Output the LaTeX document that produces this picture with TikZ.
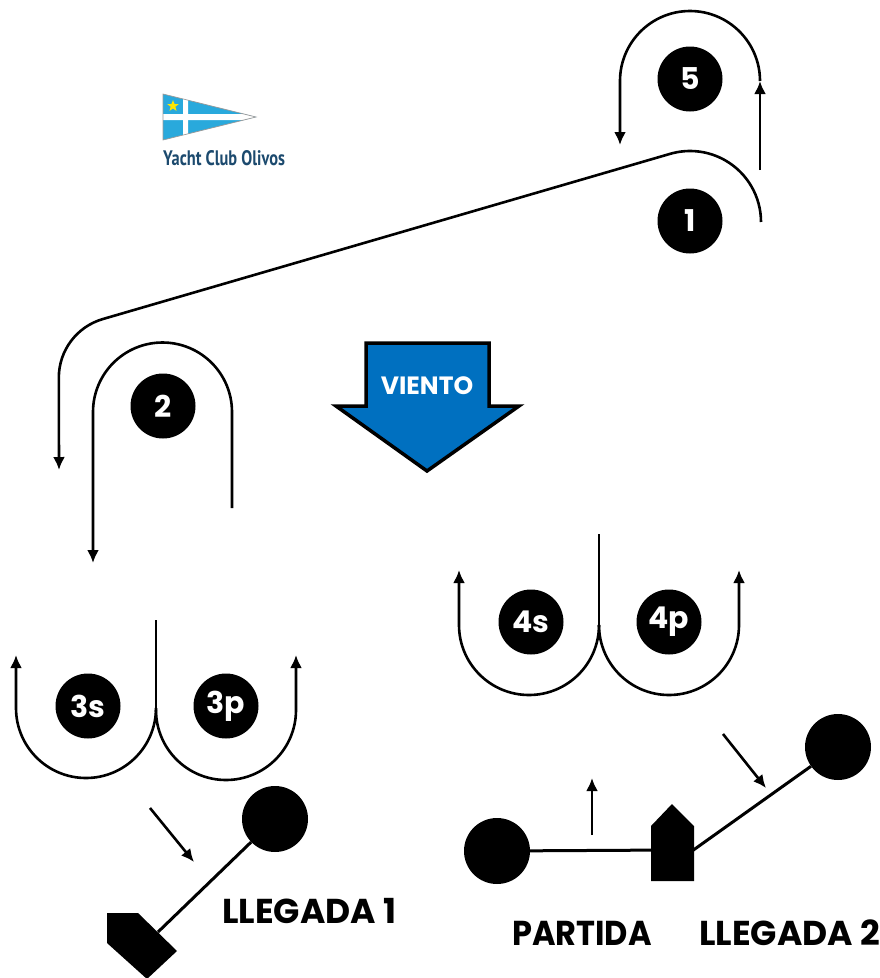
\documentclass[tikz,border=0pt]{standalone}
\usepackage{fontspec}
\setmainfont{Poppins}
\newfontfamily\logofont{PT Sans}
\usetikzlibrary{shapes.geometric,arrows.meta}
\definecolor{windblue}{HTML}{0070C0}
\definecolor{flagblue}{HTML}{29A9DC}
\definecolor{logoblue}{HTML}{1C4A6E}
\tikzset{
  leg/.style={line width=2.6pt, line join=round},
  tip/.style={-{Latex[length=13pt,width=12pt]}},
  buoy/.style={circle, fill=black, minimum size=66pt, inner sep=0pt},
  legmark/.style={circle, fill=black, text=white, minimum size=65pt, inner sep=0pt, font=\fontsize{30}{30}\selectfont\bfseries},
  finishtext/.style={anchor=west, inner sep=0pt, font=\fontsize{34.5}{34.5}\selectfont\bfseries},
}
\begin{document}
\begin{tikzpicture}[x=1pt, y=-1pt]
    \useasboundingbox (0,0) rectangle (880,978);
    % logo
    \fill [flagblue] (163,94)--(256,117)--(163,140)--cycle;
    \fill [white] (183,94) -- (188,95.5) -- (188,134) -- (183,135.5) -- cycle;
    \fill [white] (163,114) -- (244,114) -- (256,117) -- (244,120) -- (163,120) -- cycle;
    \draw [black!40, line width=0.7pt] (163,94)--(256,117)--(163,140)--cycle;
    \node (star) [star, star points=5, star point ratio=2.4, fill=yellow!90!orange, minimum size=12pt, inner sep=0pt] at (173,106) {};
    \node (club) [anchor=west, inner sep=0pt, text=logoblue, xscale=0.78, font=\fontsize{21}{21}\selectfont\logofont\bfseries] at (163,158) {Yacht Club Olivos};
    % legs 5 and 1
    \draw [leg, tip] (760,170)--(760,81);
    \draw [leg, tip] (760,81) arc (0:-180:70) -- (620,145);
    \draw [leg, tip] (761,222) arc (0:-106:71) -- (103,319) arc (-106:-180:61) -- (59,470);
    % leg 2
    \draw [leg, tip] (232,508)--(232,412) arc (0:-180:69.5) -- (93,563);
    % legs 3s and 3p
    \draw [leg] (156,620)--(156,710);
    \draw [leg, tip] (156,708) arc (0:180:70) -- (16,655);
    \draw [leg, tip] (156,710) arc (180:0:70) -- (296,655);
    % legs 4s and 4p
    \draw [leg] (599,534)--(599,625);
    \draw [leg, tip] (599,625) arc (0:180:70) -- (459,570);
    \draw [leg, tip] (599,625) arc (180:0:70) -- (739,570);
    % marks
    \node (m5) [legmark] at (690,79) {5};
    \node (m1) [legmark] at (690,221) {1};
    \node (m2) [legmark] at (163,406) {2};
    \node (m3s) [legmark] at (88,706) {3s};
    \node (m3p) [legmark] at (226,706) {3p};
    \node (m4s) [legmark] at (531,622) {4s};
    \node (m4p) [legmark] at (669,622) {4p};
    % wind
    \draw [fill=windblue, line width=3.5pt, miter limit=4] (366,343)--(489,343)--(489,406)--(519,406)--(427,471)--(336,406)--(366,406)--cycle;
    \node (wind) [text=white, inner sep=0pt, font=\fontsize{25}{25}\selectfont\bfseries] at (427,386) {VIENTO};
    % finish 1
    \node (buoyA) [buoy] at (275,819) {};
    \coordinate (boatA) at (158,932);
    \draw [line width=3pt] (boatA)--(buoyA);
    \fill (107,913)--(138,913)--(177,951)--(147,979)--(107,943)--cycle;
    \coordinate (arrAa) at (150,808);
    \coordinate (arrAb) at (194,862);
    \draw [leg, tip] (arrAa)--(arrAb);
    \node (llegadaA) [finishtext] at (222,911) {LLEGADA 1};
    % start and finish 2
    \node (buoyB) [buoy] at (497,851) {};
    \node (buoyC) [buoy] at (838,747) {};
    \coordinate (boatB) at (672,850);
    \coordinate (boatC) at (692,851);
    \draw [line width=3pt] (buoyB)--(boatB);
    \draw [line width=3pt] (boatC)--(buoyC);
    \fill (651,826)--(672,804)--(694,826)--(694,881)--(651,881)--cycle;
    \coordinate (arrBa) at (592,835);
    \coordinate (arrBb) at (592,778);
    \draw [leg, tip] (arrBa)--(arrBb);
    \coordinate (arrCa) at (723,734);
    \coordinate (arrCb) at (766,788);
    \draw [leg, tip] (arrCa)--(arrCb);
    \node (partida) [finishtext, font=\fontsize{32}{32}\selectfont\bfseries, yscale=1.08] at (512,933) {PARTIDA};
    \node (llegadaB) [finishtext] at (699,933) {LLEGADA 2};
\end{tikzpicture}
\end{document}
